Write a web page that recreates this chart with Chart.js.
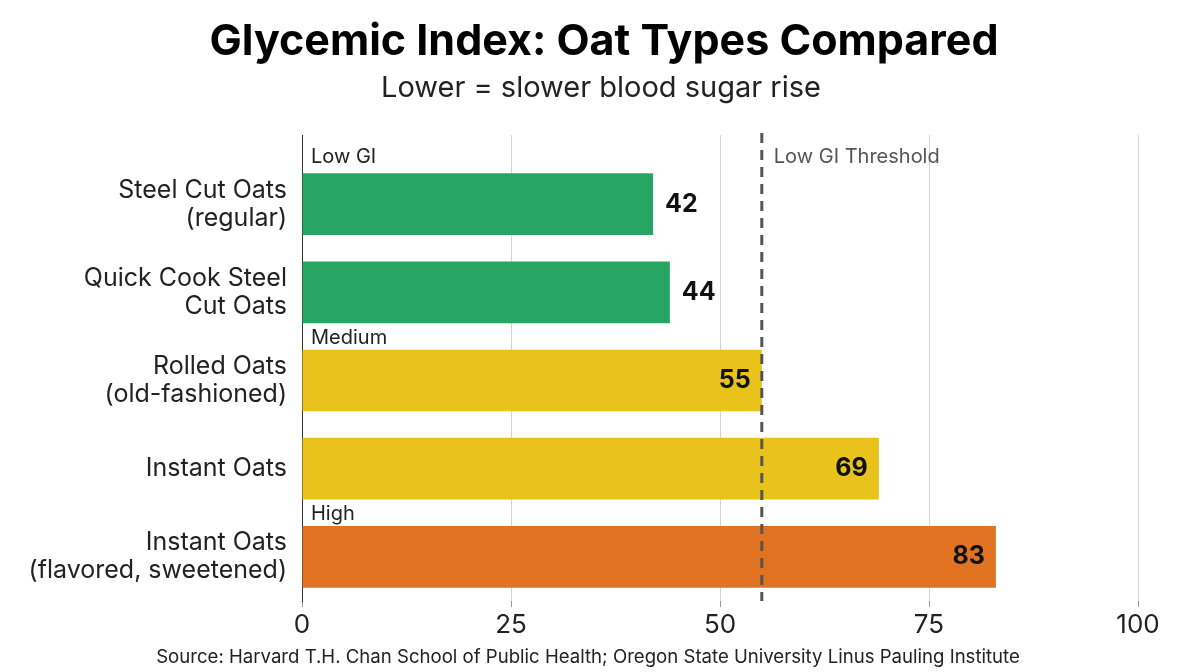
<!DOCTYPE html>
<html lang="en">
<head>
    <meta charset="UTF-8">
    <title>Glycemic Index: Oat Types Compared</title>
    <script src="https://cdn.jsdelivr.net/npm/chart.js"></script>
    <style>
        html, body { margin: 0; padding: 0; background: #fff; }
        #wrap { width: 1204px; height: 672px; position: relative; }
    </style>
</head>
<body>
    <div id="wrap"><canvas id="gi-chart"></canvas></div>

    <script>
        const oatTypes = [
            ['Steel Cut Oats', '(regular)'],
            ['Quick Cook Steel', 'Cut Oats'],
            ['Rolled Oats', '(old-fashioned)'],
            'Instant Oats',
            ['Instant Oats', '(flavored, sweetened)']
        ];
        const giValues = [42, 44, 55, 69, 83];
        const barColors = ['#27a562', '#27a562', '#e9c31b', '#e9c31b', '#e07222'];
        const groupLabels = ['Low GI', null, 'Medium', null, 'High'];
        const xTicks = [0, 25, 50, 75, 100];
        const lowGiThreshold = 55;

        const FONT = 'Inter, "Liberation Sans", Arial, sans-serif';

        // text, threshold line, grid extension, labels on bars
        const extras = {
            id: 'extras',
            beforeDatasetsDraw(chart) {
                const { ctx, chartArea, scales } = chart;
                ctx.save();
                // grid lines continue up above the first category
                ctx.strokeStyle = '#d4d4d4';
                ctx.lineWidth = 1;
                xTicks.forEach(v => {
                    if (v === 0) return;
                    const x = Math.round(scales.x.getPixelForValue(v)) + 0.5;
                    ctx.beginPath();
                    ctx.moveTo(x, 135);
                    ctx.lineTo(x, chartArea.top);
                    ctx.stroke();
                });
                ctx.strokeStyle = '#333';
                ctx.beginPath();
                ctx.moveTo(chartArea.left + 0.5, 135);
                ctx.lineTo(chartArea.left + 0.5, chartArea.top);
                ctx.stroke();
                ctx.restore();
            },
            afterDatasetsDraw(chart) {
                const { ctx, chartArea, scales } = chart;
                const meta = chart.getDatasetMeta(0);
                ctx.save();

                // threshold line
                const tx = scales.x.getPixelForValue(lowGiThreshold);
                ctx.strokeStyle = '#555';
                ctx.lineWidth = 3;
                ctx.setLineDash([10, 7]);
                ctx.beginPath();
                ctx.moveTo(tx, 133);
                ctx.lineTo(tx, chartArea.bottom);
                ctx.stroke();
                ctx.setLineDash([]);

                ctx.font = '20px ' + FONT;
                ctx.fillStyle = '#555';
                ctx.textAlign = 'left';
                ctx.textBaseline = 'middle';
                ctx.fillText('Low GI Threshold', tx + 12, 157);

                // group labels above first bar of each group
                ctx.fillStyle = '#222';
                meta.data.forEach((bar, i) => {
                    if (!groupLabels[i]) return;
                    const y = i === 0 ? 157 : bar.y - bar.height / 2 - 12;
                    ctx.fillText(groupLabels[i], chartArea.left + 9, y);
                });

                // value labels
                ctx.font = 'bold 25px ' + FONT;
                ctx.fillStyle = '#111';
                meta.data.forEach((bar, i) => {
                    const v = giValues[i];
                    if (v < lowGiThreshold) {
                        ctx.textAlign = 'left';
                        ctx.fillText(v, bar.x + 12, bar.y);
                    } else {
                        ctx.textAlign = 'right';
                        ctx.fillText(v, bar.x - 11, bar.y);
                    }
                });

                // title, subtitle, source
                ctx.textAlign = 'center';
                ctx.fillStyle = '#000';
                ctx.font = 'bold 43px ' + FONT;
                ctx.fillText('Glycemic Index: Oat Types Compared', 604, 42);
                ctx.fillStyle = '#222';
                ctx.font = '29px ' + FONT;
                ctx.fillText('Lower = slower blood sugar rise', 601, 88);
                ctx.font = '18.6px ' + FONT;
                ctx.fillText('Source: Harvard T.H. Chan School of Public Health; Oregon State University Linus Pauling Institute', 588, 657);
                ctx.restore();
            }
        };

        new Chart(document.getElementById('gi-chart'), {
            type: 'bar',
            data: {
                labels: oatTypes,
                datasets: [{
                    data: giValues,
                    backgroundColor: barColors,
                    borderWidth: 0,
                    barPercentage: 1,
                    categoryPercentage: 0.70
                }]
            },
            options: {
                indexAxis: 'y',
                responsive: true,
                maintainAspectRatio: false,
                animation: false,
                layout: { padding: { top: 160, right: 66, bottom: 0, left: 0 } },
                plugins: {
                    legend: { display: false },
                    tooltip: { enabled: false }
                },
                scales: {
                    x: {
                        min: 0,
                        max: 100,
                        afterFit(scale) { scale.height = 71; },
                        afterBuildTicks(scale) { scale.ticks = xTicks.map(v => ({ value: v })); },
                        grid: {
                            color: ctx => ctx.tick && ctx.tick.value === 0 ? 'rgba(0,0,0,0)' : '#d4d4d4',
                            tickColor: '#999',
                            tickLength: 6
                        },
                        border: { display: false },
                        ticks: {
                            font: { family: FONT, size: 26 },
                            color: '#222',
                            padding: 3
                        }
                    },
                    y: {
                        afterFit(scale) { scale.width = 302; },
                        grid: { display: false, drawTicks: false },
                        border: { display: true, color: '#333', width: 1 },
                        ticks: {
                            font: { family: FONT, size: 25, lineHeight: 1.12 },
                            color: '#222',
                            padding: 15
                        }
                    }
                }
            },
            plugins: [extras]
        });
    </script>
</body>
</html>
